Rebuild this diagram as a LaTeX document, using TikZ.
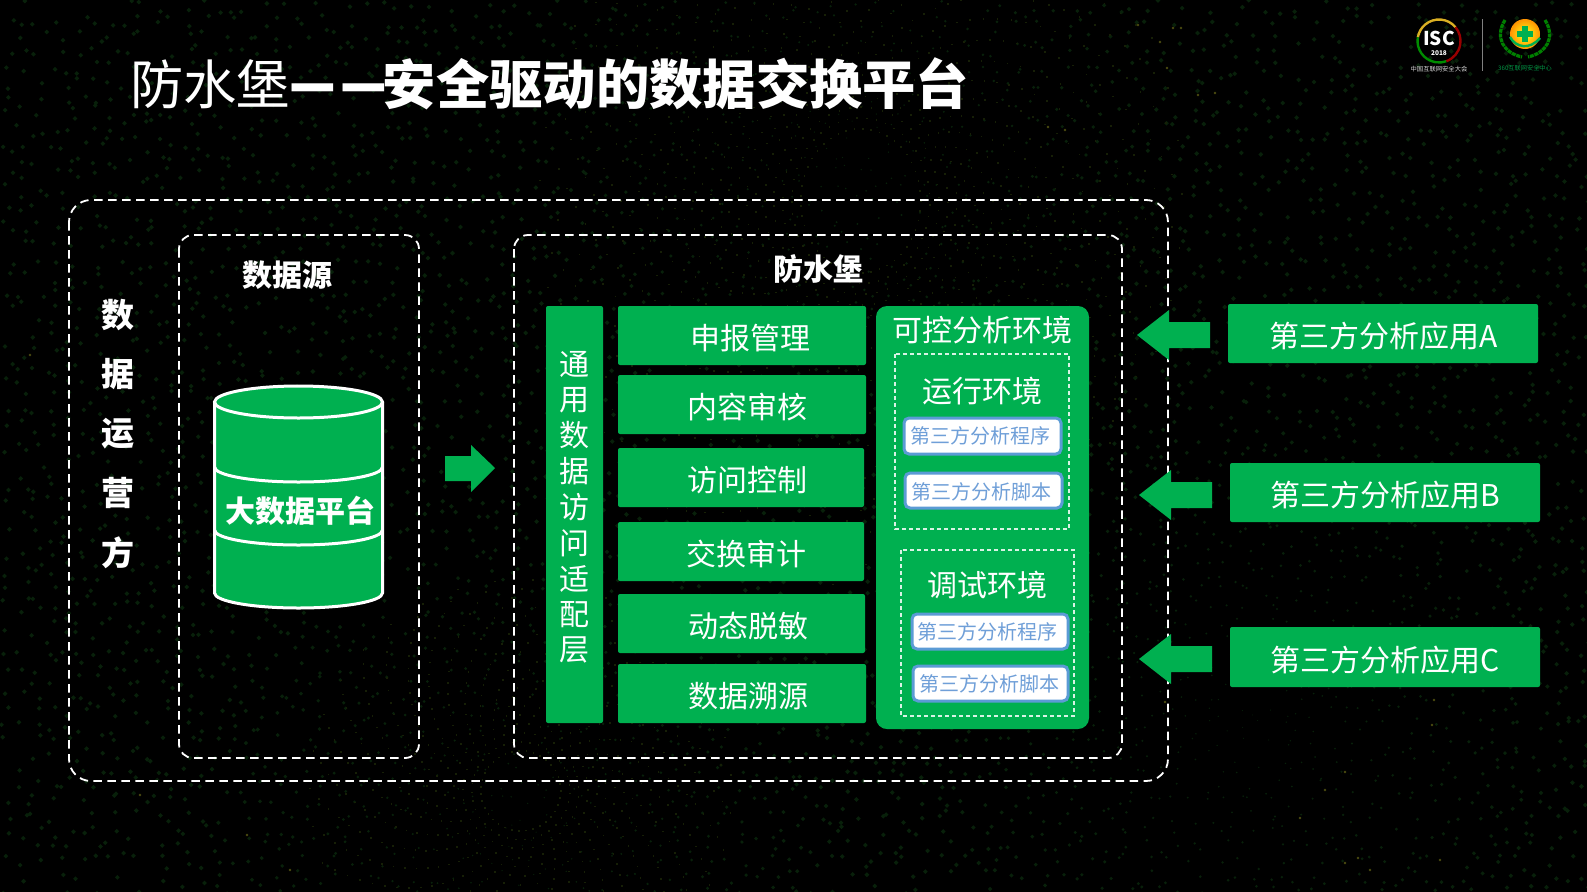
\documentclass[tikz,border=0pt]{standalone}
\usepackage{fontspec}
\setmainfont{Noto Sans CJK SC}
\usetikzlibrary{calc}
\definecolor{gr}{HTML}{00B050}
\definecolor{dotg}{HTML}{08200A}
\definecolor{dotd}{HTML}{161F06}
\definecolor{spark}{HTML}{4A4A10}
\definecolor{blu}{HTML}{5B9BD5}
\definecolor{blut}{HTML}{6F9FD8}
\newcommand{\fs}[1]{\fontsize{#1}{#1}\selectfont}
\tikzset{
 x=1pt,y=-1pt,
 greenfill/.style={fill=gr,draw=none,rounded corners=2pt},
 lab/.style={text=white,inner sep=0pt,font=\fs{30}},
 blab/.style={text=white,inner sep=0pt,font=\fs{30}\bfseries},
 dashout/.style={draw=white,line width=1.8pt,dash pattern=on 8.5pt off 5.5pt,rounded corners=22pt},
 dashin/.style={draw=white!85!gr,line width=1.1pt,dash pattern=on 4pt off 3pt},
 whitebox/.style={fill=white,draw=blu,line width=3pt,rounded corners=5pt},
 smalllab/.style={text=blut,inner sep=0pt,font=\fs{20}},
 cyl/.style={draw=white,line width=3pt},
 blockarrow/.style={fill=gr,draw=none},
 leaf/.style={draw=green!50!black,line width=3.2pt,dash pattern=on 4pt off 0.8pt}
}
\begin{document}
\begin{tikzpicture}
\useasboundingbox (0,0) rectangle (1587,891.6);
\fill[black] (-3,-3) rectangle (1590,895);
% background dot texture
\begin{scope}
\clip (0,0) rectangle (1587,891.6);
\pgfmathsetseed{4217}
\foreach \i in {0,...,105}{\foreach \j in {0,...,59}{
  \pgfmathsetmacro\px{\i*15+rnd*14}
  \pgfmathsetmacro\py{\j*15+rnd*14}
  \pgfmathsetmacro\dd{min(veclen(\px-850,\py-130),veclen(\px-520,\py-840),veclen(\px-1250,\py-720))}
  \pgfmathsetmacro\s{min(2.4,0.5+\dd/170)}
  \pgfmathsetmacro\keep{rnd}
  \ifdim\keep pt<0.8pt
  \fill[dotg] (\px,\py-\s) -- ++(\s,\s) -- ++(-\s,\s) -- ++(-\s,-\s) -- cycle;
  \fi
}}
\foreach \i in {0,...,44}{\foreach \j in {0,...,29}{
  \pgfmathsetmacro\aa{\i*8+\j*3}
  \pgfmathsetmacro\rr{60+\j*9}
  \fill[dotd] ({860+\rr*cos(\aa)},{200+\rr*sin(\aa)*1.2}) rectangle +(1.6,1.6);
}}
\foreach \i in {0,...,34}{\foreach \j in {0,...,19}{
  \pgfmathsetmacro\aa{\i*10.3+\j*3}
  \pgfmathsetmacro\rr{40+\j*9}
  \fill[dotd] ({520+\rr*cos(\aa)},{790+\rr*sin(\aa)}) rectangle +(1.6,1.6);
}}
\foreach \p/\q in {1173/28,1181/28,1138/25,1160/42,1167/68,1198/95,1215/93,1048/127,1065/130,30/355,1440/860,1370/870,1345/863,1358/858,1325/790,1345/772,1432/725,1434/700,1300/818,140/795,247/835,290/870,1165/702}
  \fill[spark] (\p,\q) circle (1.3);
\end{scope}
% title
\node[inner sep=0pt,anchor=base west,text=white,font=\fs{53.3}] (title) at (130,104) {防水堡\kern-1pt{\bfseries\fs{51}\raisebox{-4.6pt}{\scalebox{1}[1.4]{—}}\kern5pt\raisebox{-4.6pt}{\scalebox{1}[1.4]{—}}}\kern-4.5pt{\bfseries 安全驱动的数据交换平台}};
% logos
\draw[line width=2.4pt,color=yellow!55!orange!85!black] (1439,41) ++(-40:21.5) arc (-40:-170:21.5);
\draw[line width=2.4pt,color=green!55!black] (1439,41) ++(-170:21.5) arc (-170:-290:21.5);
\draw[line width=2.4pt,color=red!60!black] (1439,41) ++(-290:21.5) arc (-290:-400:21.5);
\node[inner sep=0pt,text=white,font=\fs{19}\bfseries] (isc) at (1439,38) {ISC};
\node[inner sep=0pt,text=white,font=\fs{6.5}\bfseries] (isc18) at (1439,53) {2018};
\node[inner sep=0pt,text=white!85!black,font=\fs{6.3}] (isccn) at (1439,69) {中国互联网安全大会};
\draw[gray,line width=1pt] (1482,19) -- (1482,71);
\shade[inner color=yellow!90!white,outer color=orange!85!yellow] (1525,34) circle (15);
\fill[gr] (1522,26) rectangle (1528,42);
\fill[gr] (1517,31) rectangle (1533,37);
\draw[gr,line width=2.4pt] (1510,37) .. controls (1516,48) and (1530,50) .. (1540,38);
\draw[leaf] (1505,20) .. controls (1494,38) and (1504,53) .. (1522,57);
\draw[leaf] (1545,20) .. controls (1556,38) and (1546,53) .. (1528,57);
\node[inner sep=0pt,text=gr!85!black,font=\fs{6.2}] (l360) at (1525,68) {360互联网安全中心};
% dashed frames
\draw[dashout] (69,200) rectangle (1168,781);
\draw[dashout,rounded corners=14pt] (179,235) rectangle (419,758);
\draw[dashout,rounded corners=14pt] (514,235) rectangle (1122,758);
% left column
\node[blab,font=\fs{33}\bfseries] (v1) at (118,315) {数};
\node[blab,font=\fs{33}\bfseries] (v2) at (118,374) {据};
\node[blab,font=\fs{33}\bfseries] (v3) at (118,434) {运};
\node[blab,font=\fs{33}\bfseries] (v4) at (118,493) {营};
\node[blab,font=\fs{33}\bfseries] (v5) at (118,553) {方};
\node[blab] (src) at (287,275) {数据源};
\node[blab] (fsb) at (818,269) {防水堡};
% cylinder
\fill[gr] (214.5,402) -- (214.5,593) arc[start angle=180,end angle=0,x radius=84,y radius=15] -- (382.5,402) arc[start angle=0,end angle=180,x radius=84,y radius=16] -- cycle;
\draw[cyl,fill=gr] (298.5,402) ellipse [x radius=84,y radius=16];
\draw[cyl] (214.5,402) -- (214.5,593) arc[start angle=180,end angle=0,x radius=84,y radius=15] -- (382.5,402);
\draw[cyl] (214.5,467) arc[start angle=180,end angle=0,x radius=84,y radius=15];
\draw[cyl] (214.5,530) arc[start angle=180,end angle=0,x radius=84,y radius=15];
\node[blab] (bdp) at (300,511) {大数据平台};
% arrow from source to fort
\fill[blockarrow] (445,456) -- (471,456) -- (471,445) -- (495,468) -- (471,492) -- (471,481) -- (445,481) -- cycle;
% adapter bar
\fill[greenfill] (546,306) rectangle (603,723);
\foreach \t/\n [count=\c from 0] in {通/a,用/b,数/c,据/d,访/e,问/f,适/g,配/h,层/i}
  \node[lab] (ad\n) at (574,{364+\c*35.8}) {\t};
% function boxes
\fill[greenfill] (618,306) rectangle (866,365);
\node[lab] (b1) at (750,338) {申报管理};
\fill[greenfill] (618,375) rectangle (866,434);
\node[lab] (b2) at (747,407) {内容审核};
\fill[greenfill] (618,448) rectangle (864,507);
\node[lab] (b3) at (747,480) {访问控制};
\fill[greenfill] (618,522) rectangle (864,581);
\node[lab] (b4) at (746,554) {交换审计};
\fill[greenfill] (618,594) rectangle (865,653);
\node[lab] (b5) at (748,626) {动态脱敏};
\fill[greenfill] (618,664) rectangle (866,723);
\node[lab] (b6) at (748,696) {数据溯源};
% controlled environment panel
\fill[gr,rounded corners=11pt] (876,306) rectangle (1089,729);
\node[lab] (env) at (982,330) {可控分析环境};
\draw[dashin] (895,354) rectangle (1069,529);
\node[lab] (run) at (982,391) {运行环境};
\draw[whitebox] (904,418) rectangle (1061,454);
\node[smalllab] (r1) at (980.5,436) {第三方分析程序};
\draw[whitebox] (905,473) rectangle (1062,508);
\node[smalllab] (r2) at (981.5,492) {第三方分析脚本};
\draw[dashin] (901,550) rectangle (1074,716);
\node[lab] (dbg) at (987,585) {调试环境};
\draw[whitebox] (912,614) rectangle (1068,649);
\node[smalllab] (d1) at (987,632) {第三方分析程序};
\draw[whitebox] (913,666) rectangle (1068,701);
\node[smalllab] (d2) at (989,684) {第三方分析脚本};
% incoming arrows
\fill[blockarrow] (1137,335) -- (1169,310) -- (1169,322) -- (1210,322) -- (1210,348) -- (1169,348) -- (1169,360) -- cycle;
\fill[blockarrow] (1139,495) -- (1171,470) -- (1171,482) -- (1212,482) -- (1212,508) -- (1171,508) -- (1171,520) -- cycle;
\fill[blockarrow] (1139,659) -- (1171,634) -- (1171,646) -- (1212,646) -- (1212,672) -- (1171,672) -- (1171,684) -- cycle;
% third-party apps
\fill[greenfill] (1228,304) rectangle (1538,363);
\node[lab] (a) at (1384,336) {第三方分析应用A};
\fill[greenfill] (1230,463) rectangle (1540,522);
\node[lab] (b) at (1385,495) {第三方分析应用B};
\fill[greenfill] (1230,627) rectangle (1540,687);
\node[lab] (c) at (1385,660) {第三方分析应用C};
\end{tikzpicture}
\end{document}
